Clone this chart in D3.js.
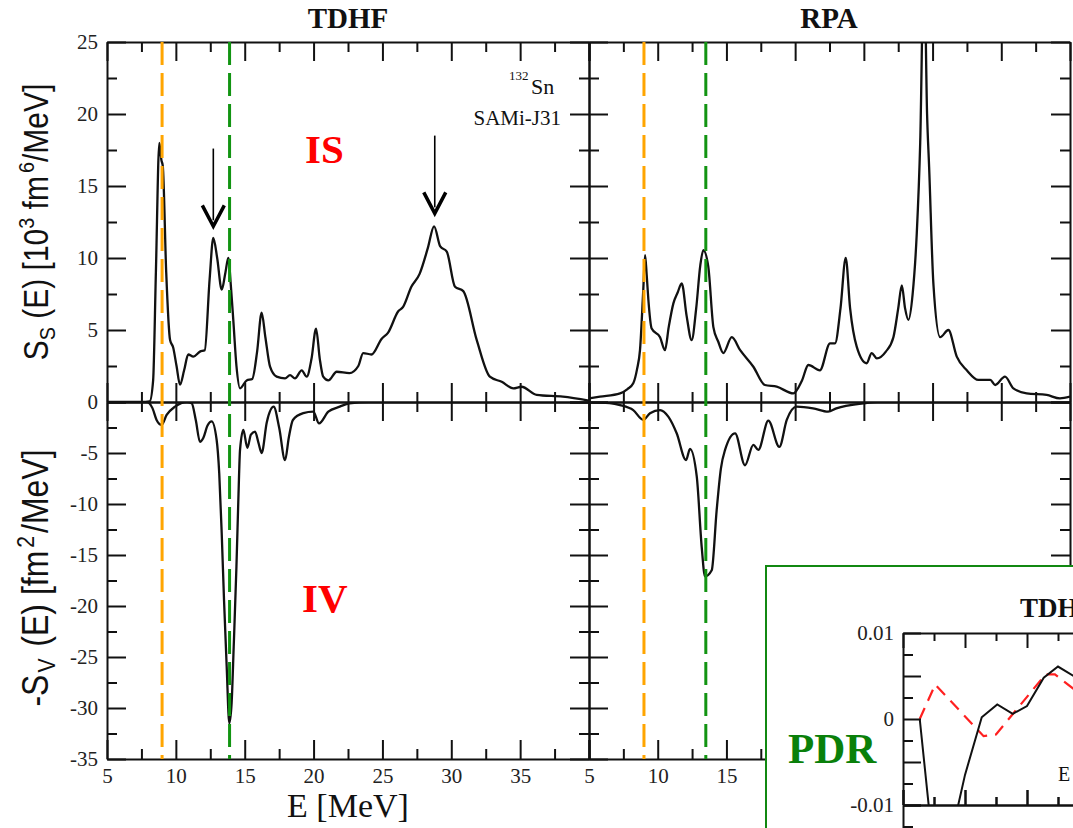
<!DOCTYPE html>
<html>
<head>
<meta charset="utf-8">
<title>132Sn strength TDHF vs RPA</title>
<style>
  body { margin: 0; background: #fff; }
  svg { display: block; }
</style>
<script src="https://cdn.jsdelivr.net/npm/d3@7"></script>
</head>
<body>
<svg id="chart" width="1073" height="828"></svg>
<script>

// ---- data: [E (MeV), strength] ----
var tdhfIS = [[5,0],[7.5,0],[8.1,0.05],[8.35,1.5],[8.55,9],[8.8,18],[8.95,16.8],[9.05,16.4],[9.3,9],[9.58,4.3],
  [9.8,3.8],[10.05,2.5],[10.3,1.2],[10.6,2.2],[10.9,3.3],[11.27,3.15],[11.75,3.5],[12.1,3.6],[12.45,8.5],[12.72,11.4],
  [13.0,10],[13.33,7.8],[13.6,9],[13.81,10],[14.0,8],[14.17,5.7],[14.4,2.5],[14.66,0.95],[15.14,1.5],[15.55,1.6],
  [15.9,3.5],[16.23,6.2],[16.5,4.5],[16.84,2.45],[17.32,1.76],[17.93,1.64],[18.29,1.87],[18.65,1.64],[19.14,2.2],
  [19.5,1.76],[19.85,3.0],[20.18,5.1],[20.45,3.0],[20.7,1.76],[21.07,1.5],[21.68,2.1],[22.6,2.0],[23.25,2.5],
  [23.6,3.4],[24.2,3.3],[24.95,4.4],[25.4,4.8],[26.15,6.3],[26.5,6.6],[27.1,8.0],[27.7,8.9],[28.3,10.7],[28.75,12.2],
  [29.2,10.8],[29.67,10.45],[30.27,8.0],[30.87,7.7],[31.85,4.3],[32.8,1.76],[33.66,1.4],[34.5,0.95],[35.1,1.06],
  [36.2,0.5],[38.1,0.37],[40,0.1]];

var tdhfIV = [[5,0],[7.9,0],[8.3,-0.6],[8.6,-1.76],[8.97,-2.25],[9.33,-1.27],[9.94,-0.46],[10.8,0],[11.15,-0.13],
  [11.45,-1.8],[11.75,-3.9],[12.0,-3.5],[12.3,-2.3],[12.6,-1.9],[12.96,-3.7],[13.15,-7],[13.33,-12.9],[13.5,-19.5],
  [13.69,-25.9],[13.88,-31.5],[14.05,-29.5],[14.2,-24],[14.4,-16.1],[14.55,-9],[14.66,-4.7],[14.9,-2.74],[15.19,-4.5],
  [15.45,-3.2],[15.75,-2.9],[16.0,-4],[16.23,-5.0],[16.6,-2],[17.1,-0.46],[17.5,-2.5],[17.93,-5.7],[18.2,-3.5],
  [18.5,-1.76],[19.25,-1.1],[19.98,-0.95],[20.4,-2.1],[21.07,-0.95],[21.9,-0.46],[22.6,-0.13],[24,0],[40,0]];

var rpaIS = [[5,0.25],[5.8,0.37],[7.26,0.6],[7.8,0.9],[8.22,1.3],[8.5,2.3],[8.71,3.6],[8.95,7.8],[9.08,10.2],[9.2,8.8],
  [9.32,7.1],[9.56,5.1],[10.17,4.5],[10.53,3.6],[10.8,5.2],[11.14,6.85],[11.45,7.6],[11.75,8.24],[12.1,6],[12.47,4.3],
  [12.8,6.5],[13.1,9.5],[13.32,10.55],[13.68,9.4],[14.05,5.2],[14.4,4.2],[14.77,3.4],[15.39,4.5],[16.0,3.6],
  [16.96,2.45],[17.8,1.18],[18.66,1.06],[19.87,0.6],[20.5,1.5],[20.96,2.57],[21.8,2.2],[22.54,4.07],[22.9,4.07],
  [23.3,6.5],[23.68,10.0],[24.0,6.5],[24.48,3.84],[25.2,2.69],[25.57,3.4],[25.94,3.03],[26.6,3.5],[27.15,4.5],
  [27.5,6.5],[27.76,8.1],[28.0,6.5],[28.24,5.7],[28.55,7.5],[28.85,11.7],[29.1,18],[29.38,31],[29.6,20],[29.75,16.3],
  [30.06,8.2],[30.55,4.5],[31.15,5.0],[31.76,3.15],[32.49,2.2],[33.33,1.53],[34.2,1.53],[34.55,1.18],[35.27,1.76],
  [35.88,0.95],[36.85,0.6],[38.3,0.49],[39.27,0.25],[40,0.37]];

var rpaIV = [[5,0],[6.5,-0.1],[7.26,-0.3],[8.22,-0.8],[8.95,-1.76],[9.44,-1.1],[10.17,-0.8],[10.77,-1.44],[11.38,-3.07],
  [12.06,-5.7],[12.35,-4.6],[12.84,-7.3],[13.2,-14.2],[13.44,-17.1],[13.93,-16.5],[14.29,-10.6],[14.6,-6.5],[14.9,-4.7],
  [15.63,-3.07],[16.35,-6.2],[16.96,-4.2],[17.32,-4.7],[18.05,-1.83],[18.85,-4.4],[19.39,-1.76],[20.1,-0.46],
  [21.3,-0.62],[22.4,-0.95],[23.0,-0.62],[24.96,-0.13],[26,0],[40,0]];

// PDR inset (partly visible)
var pdrTdhf = [[5.27,0],[5.5,-0.016],[5.75,-0.0145],[6.0,-0.0065],[6.27,0.0002],[6.52,0.0017],[6.77,0.0006],
  [7.0,0.0015],[7.27,0.0048],[7.5,0.0061],[7.75,0.005],[8.0,0.004]];
var pdrRpa = [[5.27,0],[5.52,0.004],[6.3,-0.002],[6.5,-0.0018],[7.3,0.0052],[7.45,0.0052],[7.75,0.0035],[8.0,0.002]];

// dashed marker energies
var tdhfMarks = [9.0, 13.9];
var rpaMarks = [9.0, 13.5];
var markColors = ["#ffa500", "#129412"];

// arrows: [E, top value, tip value]
var arrows = [[12.72, 17.6, 12.2], [28.8, 18.5, 13.1]];

// ticks
var eMajor = [5,10,15,20,25,30,35,40];
var eMinor = [7.5,12.5,17.5,22.5,27.5,32.5,37.5];
var isMajor = [0,5,10,15,20,25];
var isMinor = [2.5,7.5,12.5,17.5,22.5];
var ivMajor = [-35,-30,-25,-20,-15,-10,-5,0];
var ivMinor = [-32.5,-27.5,-22.5,-17.5,-12.5,-7.5,-2.5];
var pdrXMajor = [5,6,7,8];
var pdrXMinor = [5.5,6.5,7.5];
var pdrYMajor = [-0.01,-0.005,0,0.005,0.01];
var pdrYMinor = [-0.0075,-0.0025,0.0025,0.0075];

var svg = d3.select("#chart");
var serif = "'Liberation Serif', 'Times New Roman', serif";
var sans = "'Liberation Sans', Arial, sans-serif";

var tdhfX = d3.scaleLinear().domain([5,40]).range([107,589]);
var rpaX = d3.scaleLinear().domain([5,40]).range([589,1070]);
var isY = d3.scaleLinear().domain([0,25]).range([402,42]);
var ivY = d3.scaleLinear().domain([-35,0]).range([759,402]);

// inward ticks: minor + major axis on one side
function sideAxis(pos, gen, scale, majors, minors, len, fmt) {
  var g = svg.append("g").attr("transform", pos);
  g.append("g").call(gen(scale).tickValues(minors).tickSize(-len[1]).tickFormat(""))
    .call(function(s) { s.select(".domain").remove(); });
  g.append("g").call(gen(scale).tickValues(majors).tickSize(-len[0]).tickSizeOuter(0)
    .tickPadding(fmt ? 9 : 0).tickFormat(fmt || ""));
  if (!fmt) g.selectAll(".tick text").remove();
  return g;
}

function panel(x, y, data, yMajor, yMinor, opts) {
  var id = "clip" + Math.round(x.range()[0]) + "_" + Math.round(y.range()[0]);
  svg.append("clipPath").attr("id", id).append("rect")
    .attr("x", x.range()[0]).attr("y", y.range()[1])
    .attr("width", x.range()[1] - x.range()[0]).attr("height", y.range()[0] - y.range()[1]);

  svg.append("path")
    .datum(data)
    .attr("clip-path", "url(#" + id + ")")
    .attr("fill", "none")
    .attr("stroke", "#111")
    .attr("stroke-width", 2.3)
    .attr("d", d3.line().curve(d3.curveMonotoneX)
      .x(function(d) { return x(d[0]); })
      .y(function(d) { return y(d[1]); }));

  var L = [19, 10];
  sideAxis("translate(0," + y.range()[1] + ")", d3.axisTop, x, eMajor, eMinor, L, null);
  sideAxis("translate(0," + y.range()[0] + ")", d3.axisBottom, x, eMajor, eMinor, L, opts.xfmt);
  sideAxis("translate(" + x.range()[0] + ",0)", d3.axisLeft, y, yMajor, yMinor, L, opts.yfmt);
  sideAxis("translate(" + x.range()[1] + ",0)", d3.axisRight, y, yMajor, yMinor, L, null);
}

panel(tdhfX, isY, tdhfIS, isMajor, isMinor, {yfmt: function(d) { return d; }});
panel(tdhfX, ivY, tdhfIV, ivMajor, ivMinor, {
  yfmt: function(d) { return d === 0 ? "" : String(d); },
  xfmt: function(d) { return d === 40 ? "" : d; }});
panel(rpaX, isY, rpaIS, isMajor, isMinor, {});
// RPA bottom labels beyond 15 MeV sit under the inset
panel(rpaX, ivY, rpaIV, ivMajor, ivMinor, {xfmt: function(d) { return d <= 15 ? d : ""; }});

// dashed vertical markers
[[tdhfX, tdhfMarks], [rpaX, rpaMarks]].forEach(function(p) {
  svg.append("g").selectAll("line").data(p[1]).join("line")
    .attr("x1", function(d) { return p[0](d); })
    .attr("x2", function(d) { return p[0](d); })
    .attr("y1", isY(25)).attr("y2", ivY(-35))
    .attr("stroke", function(d, i) { return markColors[i]; })
    .attr("stroke-width", 3)
    .attr("stroke-dasharray", "23,8");
});

// arrows in TDHF IS
var ar = svg.append("g").attr("stroke", "#000").attr("fill", "none");
ar.selectAll("line").data(arrows).join("line")
  .attr("x1", function(d) { return tdhfX(d[0]); }).attr("x2", function(d) { return tdhfX(d[0]); })
  .attr("y1", function(d) { return isY(d[1]); }).attr("y2", function(d) { return isY(d[2]) - 6; })
  .attr("stroke-width", 1.6);
ar.selectAll("polyline").data(arrows).join("polyline")
  .attr("points", function(d) {
    var x = tdhfX(d[0]), t = isY(d[2]);
    return [[x - 11, t - 21], [x, t], [x + 11, t - 21]].join(" ");
  })
  .attr("stroke-width", 3.5);

// axis styling
svg.selectAll(".tick line, .domain").attr("stroke", "#111").attr("stroke-width", 2);
svg.selectAll(".tick text").attr("fill", "#222").attr("font-size", 21).attr("font-family", serif);

// titles and labels
function txt(x, y, s, size, opts) {
  opts = opts || {};
  return svg.append("text").attr("x", x).attr("y", y).text(s)
    .attr("font-size", size)
    .attr("font-family", opts.family || serif)
    .attr("font-weight", opts.weight || "normal")
    .attr("fill", opts.fill || "#111")
    .attr("text-anchor", opts.anchor || "start");
}
txt(348, 28, "TDHF", 29, {weight: "bold", anchor: "middle"});
txt(829, 28, "RPA", 29, {weight: "bold", anchor: "middle"});
txt(305, 163, "IS", 41, {weight: "bold", fill: "#ff0000"});
txt(302, 612, "IV", 41, {weight: "bold", fill: "#ff0000"});
txt(509, 80, "132", 13);
txt(531, 94, "Sn", 22);
txt(561, 125, "SAMi-J31", 21, {anchor: "end"});
txt(348, 817, "E [MeV]", 34, {anchor: "middle"});

// rotated y titles with sub/superscripts
function yTitle(cy, size, parts) {
  var t = svg.append("text")
    .attr("transform", "translate(48," + cy + ") rotate(-90) scale(1,1.15)")
    .attr("text-anchor", "middle")
    .attr("font-family", sans)
    .attr("font-size", size)
    .attr("fill", "#111");
  parts.forEach(function(p) {
    t.append("tspan").text(p[0]).attr("dy", p[1]).attr("dx", p[3] || 0)
      .attr("font-size", p[2] ? size * 0.66 : size);
  });
}
yTitle(222, 30, [["S", 0], ["S", 6, 1], [" (E) [10", -6], ["3", -12, 1], [" fm", 12], ["6", -12, 1, 3], ["/MeV]", 12]]);
yTitle(578, 32, [["-S", 0], ["V", 6, 1, 2], [" (E) [fm", -6, 0, 3], ["2", -12, 1, 3], ["/MeV]", 12, 0, 3]]);

// ---- PDR inset ----
svg.append("rect").attr("x", 766).attr("y", 566).attr("width", 340).attr("height", 300)
  .attr("fill", "#fff").attr("stroke", "#118811").attr("stroke-width", 2);

var pdrX = d3.scaleLinear().domain([5,8]).range([903,1089]);
var pdrY = d3.scaleLinear().domain([-0.01,0.01]).range([805,633]);
var pdrY2 = d3.scaleLinear().domain([-0.01,0.01]).range([977,805]);

svg.append("clipPath").attr("id", "clipPdr").append("rect")
  .attr("x", 903).attr("y", 633).attr("width", 186).attr("height", 172);

svg.append("path").datum(pdrRpa)
  .attr("clip-path", "url(#clipPdr)")
  .attr("fill", "none").attr("stroke", "#ff2020").attr("stroke-width", 2.2)
  .attr("stroke-dasharray", "12,8")
  .attr("d", d3.line().x(function(d) { return pdrX(d[0]); }).y(function(d) { return pdrY(d[1]); }));
svg.append("path").datum(pdrTdhf)
  .attr("clip-path", "url(#clipPdr)")
  .attr("fill", "none").attr("stroke", "#111").attr("stroke-width", 2)
  .attr("d", d3.line().x(function(d) { return pdrX(d[0]); }).y(function(d) { return pdrY(d[1]); }));

var pL = [15, 8];
var pdrFmt = function(d) { return d === 0.01 ? "0.01" : d === 0 ? "0" : d === -0.01 ? "-0.01" : ""; };
var inset = [
  sideAxis("translate(0,633)", d3.axisTop, pdrX, pdrXMajor, pdrXMinor, pL, null),
  sideAxis("translate(0,805)", d3.axisBottom, pdrX, pdrXMajor, pdrXMinor, pL, null),
  sideAxis("translate(0,805)", d3.axisTop, pdrX, pdrXMajor, pdrXMinor, pL, null),
  sideAxis("translate(903,0)", d3.axisLeft, pdrY, pdrYMajor, pdrYMinor, [18, 10], pdrFmt),
  sideAxis("translate(903,0)", d3.axisLeft, pdrY2, pdrYMajor, pdrYMinor, [18, 10], null)
];
inset.forEach(function(g) {
  g.selectAll(".tick line, .domain").attr("stroke", "#111").attr("stroke-width", 2);
  g.selectAll(".tick text").attr("fill", "#222").attr("font-size", 21).attr("font-family", serif);
});
// second (lower) inset panel: ticks point down from its top edge
inset[2].selectAll(".tick line").attr("y2", function() { return -d3.select(this).attr("y2"); });

txt(788, 763, "PDR", 43, {weight: "bold", fill: "#0a800a"});
txt(1020, 617, "TDHF", 27, {weight: "bold"});
txt(1058, 781, "E", 20);

</script>
</body>
</html>
